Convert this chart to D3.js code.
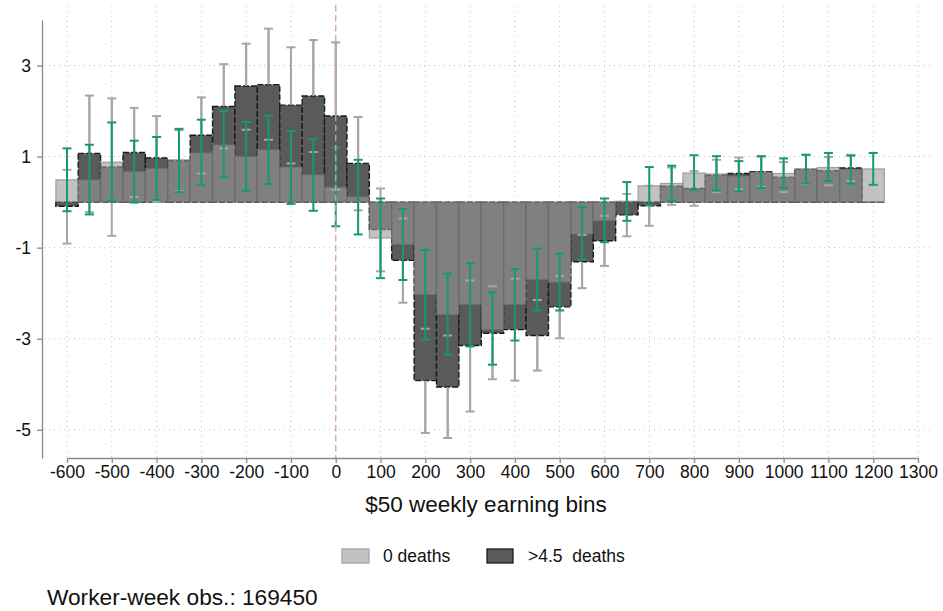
<!DOCTYPE html>
<html>
<head>
<meta charset="utf-8">
<script src="https://cdn.jsdelivr.net/npm/d3@7"></script>
<style>
  html, body { margin: 0; padding: 0; background: #fff; }
  svg { display: block; font-family: "Liberation Sans", Arial, sans-serif; }
</style>
</head>
<body>
<svg id="chart" width="943" height="611"></svg>
<script>
// ---- data ----
const bins = [-600,-550,-500,-450,-400,-350,-300,-250,-200,-150,-100,-50,0,50,100,150,200,250,300,350,400,450,500,550,600,650,700,750,800,850,900,950,1000,1050,1100,1150,1200];

// "0 deaths" series (light bars) and its 95% CI (green bars)
const zeroDeaths = [0.49,0.49,0.88,0.67,0.74,0.93,1.08,1.26,1.00,1.15,0.77,0.60,0.33,0.12,-0.79,-0.93,-2.03,-2.47,-2.25,-2.80,-2.25,-1.70,-1.76,-0.70,-0.41,0.02,0.36,0.41,0.64,0.62,0.57,0.66,0.63,0.73,0.76,0.72,0.73];
const zeroLo = [-0.20,-0.27,0.03,-0.01,0.05,0.22,0.37,0.54,0.25,0.40,-0.04,-0.19,-0.53,-0.71,-1.67,-1.71,-3.02,-3.35,-3.17,-3.57,-3.04,-2.38,-2.38,-1.26,-0.88,-0.41,-0.07,0.02,0.27,0.25,0.24,0.31,0.31,0.41,0.46,0.41,0.38];
const zeroHi = [1.18,1.26,1.75,1.35,1.43,1.61,1.81,2.00,1.76,1.90,1.56,1.38,1.20,0.93,0.08,-0.15,-1.05,-1.57,-1.34,-1.98,-1.47,-1.02,-1.13,-0.11,0.08,0.44,0.77,0.80,1.03,1.01,0.90,1.01,0.96,1.04,1.08,1.02,1.08];

// ">4.5 deaths" series (dark bars) and its 95% CI (gray bars)
const highDeaths = [-0.09,1.07,0.77,1.09,0.97,0.91,1.47,2.10,2.55,2.58,2.13,2.33,1.89,0.85,-0.60,-1.28,-3.92,-4.06,-3.15,-2.88,-2.80,-2.93,-2.30,-1.31,-0.85,-0.28,-0.08,0.35,0.30,0.59,0.63,0.67,0.55,0.72,0.69,0.75,0.00];
const highLo = [-0.91,-0.22,-0.74,0.11,0.01,0.24,0.63,1.18,1.59,1.37,0.85,1.10,0.27,-0.18,-1.52,-2.21,-5.07,-5.18,-4.60,-3.89,-3.92,-3.70,-2.99,-1.89,-1.40,-0.75,-0.52,-0.06,-0.08,0.22,0.28,0.33,0.22,0.40,0.37,0.46,null];
const highHi = [0.71,2.34,2.28,2.07,1.89,1.58,2.30,3.03,3.48,3.81,3.40,3.56,3.51,1.87,0.30,-0.36,-2.78,-2.93,-1.72,-1.85,-1.68,-2.15,-1.62,-0.72,-0.30,0.18,0.36,0.76,0.68,0.93,0.98,1.00,0.88,1.04,0.99,1.04,null];

const xTicks = [-600,-500,-400,-300,-200,-100,0,100,200,300,400,500,600,700,800,900,1000,1100,1200,1300];
const yTicks = [3,1,-1,-3,-5];
const binWidth = 50;
const xTitle = "$50 weekly earning bins";
const legendLabels = ["0 deaths", ">4.5  deaths"];
const note = "Worker-week obs.: 169450";

// ---- layout ----
const svg = d3.select("#chart");
const x = d3.scaleLinear().domain([-600, 1300]).range([67, 918]);
const y = d3.scaleLinear().domain([-5.62, 4.0]).range([458, 20]);
const plotLeft = 44, plotRight = 932, plotTop = 6, plotBottom = 458;

const greenC = "#139a75";
const grayCI = "#a6a6a6";

// gridlines
const grid = svg.append("g");
grid.selectAll("line.h").data(yTicks).join("line")
  .attr("x1", plotLeft).attr("x2", plotRight)
  .attr("y1", d => y(d)).attr("y2", d => y(d))
  .attr("stroke", "#c4c4c4").attr("stroke-width", 1).attr("stroke-dasharray", "1,4");
grid.selectAll("line.v").data(xTicks).join("line")
  .attr("x1", d => x(d)).attr("x2", d => x(d))
  .attr("y1", plotTop).attr("y2", plotBottom)
  .attr("stroke", "#c4c4c4").attr("stroke-width", 1).attr("stroke-dasharray", "1,4");

// build rows
const rows = bins.map((b, i) => ({
  b, z: zeroDeaths[i], zl: zeroLo[i], zh: zeroHi[i],
  h: highDeaths[i], hl: highLo[i], hh: highHi[i]
}));
const bw = x(binWidth) - x(0);
const capW = 9;

// gray CI vertical lines (behind bars)
const hci = rows.filter(r => r.hl !== null);
svg.append("g").selectAll("line").data(hci).join("line")
  .attr("x1", r => x(r.b)).attr("x2", r => x(r.b))
  .attr("y1", r => y(r.hl)).attr("y2", r => y(r.hh))
  .attr("stroke", grayCI).attr("stroke-width", 2);

// dark bars
svg.append("g").selectAll("rect").data(rows).join("rect")
  .attr("x", r => x(r.b) - bw / 2).attr("width", bw)
  .attr("y", r => y(Math.max(0, r.h)))
  .attr("height", r => Math.max(0.01, Math.abs(y(r.h) - y(0))))
  .attr("fill", "#5a5a5a").attr("stroke", "#1a1a1a")
  .attr("stroke-width", 1.4).attr("stroke-dasharray", "6,2");

// light bars (semi-transparent, on top)
svg.append("g").selectAll("rect").data(rows).join("rect")
  .attr("x", r => x(r.b) - bw / 2).attr("width", bw)
  .attr("y", r => y(Math.max(0, r.z)))
  .attr("height", r => Math.abs(y(r.z) - y(0)))
  .attr("fill", "rgb(153,153,153)").attr("fill-opacity", 0.6)
  .attr("stroke", "rgb(110,110,110)").attr("stroke-opacity", 0.55).attr("stroke-width", 1.2);

// gray CI caps (drawn above bars)
const gcap = svg.append("g");
["hl", "hh"].forEach(k => {
  gcap.selectAll("line." + k).data(hci).join("line")
    .attr("x1", r => x(r.b) - capW / 2).attr("x2", r => x(r.b) + capW / 2)
    .attr("y1", r => y(r[k])).attr("y2", r => y(r[k]))
    .attr("stroke", grayCI).attr("stroke-width", 2);
});
// gray CI segments outside the dark bar
svg.append("g").selectAll("line").data(hci).join("line")
  .attr("x1", r => x(r.b)).attr("x2", r => x(r.b))
  .attr("y1", r => y(r.h >= 0 ? r.hh : r.hl))
  .attr("y2", r => y(r.h >= 0 ? Math.max(r.h, r.hl) : Math.min(r.h, r.hh)))
  .attr("stroke", grayCI).attr("stroke-width", 2);

// green CI
const gci = svg.append("g");
gci.selectAll("line.v").data(rows).join("line")
  .attr("x1", r => x(r.b)).attr("x2", r => x(r.b))
  .attr("y1", r => y(r.zl)).attr("y2", r => y(r.zh))
  .attr("stroke", greenC).attr("stroke-width", 2);
["zl", "zh"].forEach(k => {
  gci.selectAll("line." + k).data(rows).join("line")
    .attr("x1", r => x(r.b) - capW / 2).attr("x2", r => x(r.b) + capW / 2)
    .attr("y1", r => y(r[k])).attr("y2", r => y(r[k]))
    .attr("stroke", greenC).attr("stroke-width", 2);
});

// zero reference line
svg.append("line")
  .attr("x1", x(0)).attr("x2", x(0)).attr("y1", plotTop - 1).attr("y2", plotBottom)
  .attr("stroke", "#d59cc6").attr("stroke-width", 1.3).attr("stroke-dasharray", "6,4");

// axes
const axisColor = "#8a8a8a";
const fmt = d => String(d);
const yAxis = svg.append("g").attr("transform", "translate(42,0)")
  .call(d3.axisLeft(y).tickValues(yTicks).tickSize(5).tickSizeOuter(0).tickPadding(6).tickFormat(fmt));
const xAxis = svg.append("g").attr("transform", `translate(0,${plotBottom})`)
  .call(d3.axisBottom(x).tickValues(xTicks).tickSize(5).tickSizeOuter(0).tickPadding(3).tickFormat(fmt));
[yAxis, xAxis].forEach(a => {
  a.select(".domain").attr("stroke", axisColor).attr("stroke-width", 1.3);
  a.selectAll(".tick line").attr("stroke", axisColor).attr("stroke-width", 1.3);
  a.selectAll(".tick text").attr("fill", "#111").style("font-size", "17.5px")
    .style("font-family", '"Liberation Sans", Arial, sans-serif');
});

// axis title
svg.append("text").attr("x", 486).attr("y", 512)
  .attr("text-anchor", "middle").style("font-size", "22.5px").attr("fill", "#111")
  .text(xTitle);

// legend
const leg = svg.append("g");
leg.append("rect").attr("x", 342).attr("y", 549).attr("width", 27).attr("height", 14)
  .attr("fill", "#c2c2c2").attr("stroke", "#a4a4a4").attr("stroke-width", 1.3);
leg.append("text").attr("x", 383).attr("y", 562).style("font-size", "17.5px").attr("fill", "#111")
  .text(legendLabels[0]);
leg.append("rect").attr("x", 487).attr("y", 549).attr("width", 26).attr("height", 14)
  .attr("fill", "#5a5a5a").attr("stroke", "#1e1e1e").attr("stroke-width", 1.3);
leg.append("text").attr("x", 528).attr("y", 562).style("font-size", "17.5px").attr("fill", "#111")
  .attr("xml:space", "preserve").style("white-space", "pre")
  .text(legendLabels[1]);

// note
svg.append("text").attr("x", 47).attr("y", 605).style("font-size", "22.7px").attr("fill", "#111")
  .text(note);
</script>
</body>
</html>
